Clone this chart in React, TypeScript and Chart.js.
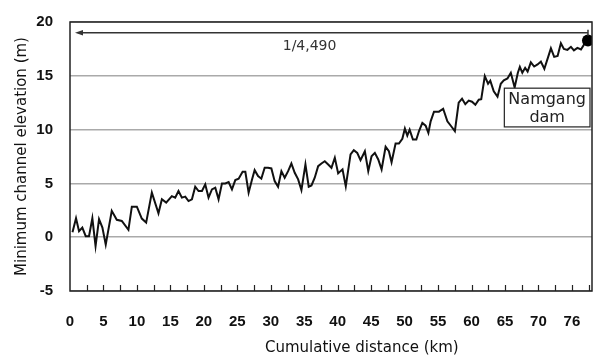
import React, { useEffect, useRef } from 'react';
import { Chart, registerables } from 'chart.js';

Chart.register(...registerables);

const DISTANCE_KM = [
  0.37, 0.9, 1.35, 1.84, 2.35, 2.84, 3.34, 3.82, 4.34, 4.84,
  5.34, 6.24, 6.99, 7.74, 8.73, 9.24, 9.99, 10.73, 11.38, 12.23,
  13.22, 13.73, 14.37, 15.22, 15.72, 16.21, 16.72, 17.22, 17.71, 18.22,
  18.71, 19.21, 19.72, 20.21, 20.7, 21.21, 21.71, 22.2, 22.71, 23.2,
  23.7, 24.2, 24.7, 25.2, 25.79, 26.2, 26.69, 27.2, 27.59, 28.1,
  28.59, 29.09, 29.6, 30.09, 30.58, 31.09, 31.59, 32.08, 32.59, 33.08,
  33.58, 34.09, 34.58, 35.18, 35.67, 36.08, 36.57, 37.08, 37.57, 38.07,
  38.58, 39.07, 39.57, 40.07, 40.42, 40.72, 41.21, 41.92, 42.41, 42.92,
  43.41, 44.06, 44.57, 45.06, 45.55, 46.06, 46.56, 47.16, 47.65, 48.05,
  48.65, 49.15, 49.66, 50.04, 50.4, 50.75, 51.24, 51.75, 52.14, 52.65,
  53.14, 53.55, 53.89, 54.39, 55.13, 55.76, 56.39, 56.96, 57.51, 58.08,
  58.58, 59.07, 59.58, 60.07, 60.57, 61.08, 61.45, 61.98, 62.47, 62.8,
  63.32, 63.88, 64.37, 64.82, 65.37, 65.87, 66.44, 66.92, 67.22, 67.59,
  68.01, 68.38, 68.86, 69.36, 69.87, 70.36, 70.88, 71.86, 72.35, 72.86,
  73.35, 73.8, 74.33, 74.85, 75.3, 75.82, 76.35, 76.87, 77.4,
];

const ELEVATION_M = [
  0.46, 1.76, 0.56, 0.9, 0.09, 0.09, 1.76, -0.83, 1.67, 0.9,
  -0.69, 2.45, 1.62, 1.51, 0.69, 2.84, 2.84, 1.73, 1.36, 4.14,
  2.22, 3.52, 3.21, 3.82, 3.68, 4.29, 3.68, 3.77, 3.36, 3.52,
  4.69, 4.29, 4.29, 4.91, 3.68, 4.44, 4.6, 3.52, 5.0, 5.0,
  5.12, 4.44, 5.31, 5.44, 6.08, 6.08, 4.14, 5.37, 6.23, 5.68,
  5.44, 6.45, 6.45, 6.39, 5.21, 4.69, 6.14, 5.53, 6.14, 6.85,
  5.99, 5.37, 4.38, 6.76, 4.69, 4.81, 5.53, 6.6, 6.85, 7.06,
  6.76, 6.45, 7.38, 5.93, 6.14, 6.3, 4.72, 7.69, 8.08, 7.84,
  7.16, 7.99, 6.14, 7.53, 7.84, 7.22, 6.3, 8.4, 7.99, 6.97,
  8.7, 8.7, 9.14, 10.09, 9.44, 10.0, 9.07, 9.07, 9.84, 10.62,
  10.37, 9.69, 10.77, 11.67, 11.67, 11.94, 10.77, 10.31, 9.86, 12.5,
  12.87, 12.36, 12.69, 12.59, 12.31, 12.78, 12.82, 14.97, 14.26, 14.54,
  13.55, 13.06, 14.26, 14.58, 14.75, 15.28, 13.92, 15.28, 15.83, 15.28,
  15.74, 15.4, 16.25, 15.86, 16.06, 16.32, 15.65, 17.55, 16.76, 16.85,
  18.03, 17.5, 17.41, 17.69, 17.36, 17.59, 17.45, 17.96, 18.29,
];

const X_LABEL_VALUES = [0, 5, 10, 15, 20, 25, 30, 35, 40, 45, 50, 55, 60, 65, 70, 75];
const X_LABELS = ['0', '5', '10', '15', '20', '25', '30', '35', '40', '45', '50', '55', '60', '65', '70', '76'];
const X_MIN = 0;
const X_MAX = 78;
const X_MINOR_STEP = 2.5;
const Y_MIN = -5;
const Y_MAX = 20;
const Y_STEP = 5;

const X_TITLE = 'Cumulative distance (km)';
const Y_TITLE = 'Minimum channel elevation (m)';
const SLOPE_TEXT = '1/4,490';
const DAM_TEXT = ['Namgang', 'dam'];

// annotation anchors in data units
const ARROW_Y = 19.0;
const ARROW_FROM_X = 77.4;
const ARROW_TO_X = 0.75;
const SLOPE_TEXT_POS = { x: 35.8, y: 17.7 };
const DAM_BOX = { x0: 64.9, x1: 77.7, y0: 13.85, y1: 10.25 };
const X_TITLE_CENTER_KM = 43.6;

const TEXT_FONT = '"DejaVu Sans", "Noto Sans", sans-serif';
const TICK_FONT = '"Liberation Sans", Arial, sans-serif';

const decorPlugin = {
  id: 'decor',
  afterDatasetsDraw(chart: any) {
    const { ctx, chartArea, scales } = chart;
    const xs = scales.x;
    const ys = scales.y;
    ctx.save();

    // inward minor ticks on the x axis
    ctx.strokeStyle = '#222';
    ctx.lineWidth = 1.2;
    for (const t of xs.ticks) {
      if (t.value <= X_MIN) continue;
      const px = Math.round(xs.getPixelForValue(t.value)) + 0.5;
      ctx.beginPath();
      ctx.moveTo(px, chartArea.bottom);
      ctx.lineTo(px, chartArea.bottom - 6);
      ctx.stroke();
    }

    // arrow
    const ay = ys.getPixelForValue(ARROW_Y);
    const ax0 = xs.getPixelForValue(ARROW_FROM_X);
    const ax1 = xs.getPixelForValue(ARROW_TO_X);
    ctx.strokeStyle = '#333';
    ctx.fillStyle = '#333';
    ctx.lineWidth = 1.5;
    ctx.beginPath();
    ctx.moveTo(ax0, ay);
    ctx.lineTo(ax1 + 6, ay);
    ctx.stroke();
    ctx.beginPath();
    ctx.moveTo(ax1, ay);
    ctx.lineTo(ax1 + 8, ay - 2.8);
    ctx.lineTo(ax1 + 8, ay + 2.8);
    ctx.closePath();
    ctx.fill();
    ctx.beginPath();
    ctx.moveTo(ax0, ay - 3);
    ctx.lineTo(ax0, ay + 3);
    ctx.stroke();

    // slope text
    ctx.font = '14px ' + TEXT_FONT;
    ctx.textAlign = 'center';
    ctx.textBaseline = 'middle';
    ctx.fillStyle = '#333';
    ctx.fillText(SLOPE_TEXT, xs.getPixelForValue(SLOPE_TEXT_POS.x), ys.getPixelForValue(SLOPE_TEXT_POS.y));

    // dam box
    const bx0 = xs.getPixelForValue(DAM_BOX.x0);
    const bx1 = xs.getPixelForValue(DAM_BOX.x1);
    const by0 = ys.getPixelForValue(DAM_BOX.y0);
    const by1 = ys.getPixelForValue(DAM_BOX.y1);
    ctx.fillStyle = '#fff';
    ctx.fillRect(bx0, by0, bx1 - bx0, by1 - by0);
    ctx.strokeStyle = '#222';
    ctx.lineWidth = 1.2;
    ctx.strokeRect(bx0, by0, bx1 - bx0, by1 - by0);
    ctx.fillStyle = '#222';
    ctx.font = '16px ' + TEXT_FONT;
    const cx = (bx0 + bx1) / 2;
    const h = by1 - by0;
    ctx.fillText(DAM_TEXT[0], cx, by0 + h * 0.3);
    ctx.fillText(DAM_TEXT[1], cx, by0 + h * 0.76);

    // frame
    ctx.strokeStyle = '#222';
    ctx.lineWidth = 1.5;
    ctx.strokeRect(chartArea.left, chartArea.top, chartArea.right - chartArea.left, chartArea.bottom - chartArea.top);

    // x-axis title (offset to the right of centre, as in the source figure)
    ctx.fillStyle = '#111';
    ctx.font = '15px ' + TEXT_FONT;
    ctx.textAlign = 'center';
    ctx.textBaseline = 'middle';
    ctx.fillText(X_TITLE, xs.getPixelForValue(X_TITLE_CENTER_KM), xs.bottom - 12);
    ctx.restore();
  },
};

export default function App() {
  const canvasRef = useRef<HTMLCanvasElement | null>(null);

  useEffect(() => {
    const canvas = canvasRef.current;
    if (!canvas) return;
    const points = DISTANCE_KM.map((d, i) => ({ x: d, y: ELEVATION_M[i] }));
    const last = points.length - 1;
    const chart = new Chart(canvas, {
      type: 'line',
      data: {
        datasets: [
          {
            data: points,
            borderColor: '#111',
            backgroundColor: '#000',
            borderWidth: 2,
            tension: 0,
            pointRadius: (c: any) => (c.dataIndex === last ? 6 : 0),
            pointHoverRadius: 0,
            pointBackgroundColor: '#000',
            pointBorderWidth: 0,
          },
        ],
      },
      options: {
        animation: false,
        responsive: false,
        events: [],
        layout: { padding: { top: 22, right: 8, left: 0, bottom: 0 } },
        plugins: { legend: { display: false }, tooltip: { enabled: false } },
        scales: {
          x: {
            type: 'linear',
            min: X_MIN,
            max: X_MAX,
            afterBuildTicks: (scale: any) => {
              const ticks = [];
              for (let v = X_MIN; v <= X_MAX; v += X_MINOR_STEP) ticks.push({ value: v });
              scale.ticks = ticks;
            },
            afterFit: (scale: any) => {
              scale.height = 69;
              scale.paddingRight = 0;
              scale.paddingLeft = 0;
            },
            grid: { display: false, drawTicks: false },
            border: { display: false },
            ticks: {
              autoSkip: false,
              maxRotation: 0,
              padding: 22,
              color: '#111',
              font: { family: TICK_FONT, size: 15, weight: 'bold' },
              callback: (value: any) => {
                const i = X_LABEL_VALUES.indexOf(Number(value));
                return i >= 0 ? X_LABELS[i] : '';
              },
            },
            title: { display: false },
          },
          y: {
            min: Y_MIN,
            max: Y_MAX,
            afterFit: (scale: any) => {
              scale.width = 70;
              scale.paddingTop = 0;
              scale.paddingBottom = 0;
            },
            grid: {
              drawTicks: false,
              color: '#aaa',
              lineWidth: 1.5,
            },
            border: { display: false },
            ticks: {
              stepSize: Y_STEP,
              padding: 17,
              color: '#111',
              font: { family: TICK_FONT, size: 15, weight: 'bold' },
            },
            title: {
              display: true,
              text: Y_TITLE,
              color: '#111',
              font: { family: TEXT_FONT, size: 15 },
              padding: { top: 13, bottom: 0 },
            },
          },
        },
      },
      plugins: [decorPlugin],
    } as any);
    return () => chart.destroy();
  }, []);

  return (
    <div style={{ position: 'absolute', left: 0, top: 0, width: 600, height: 360, background: '#fff' }}>
      <canvas ref={canvasRef} width={600} height={360} />
    </div>
  );
}
